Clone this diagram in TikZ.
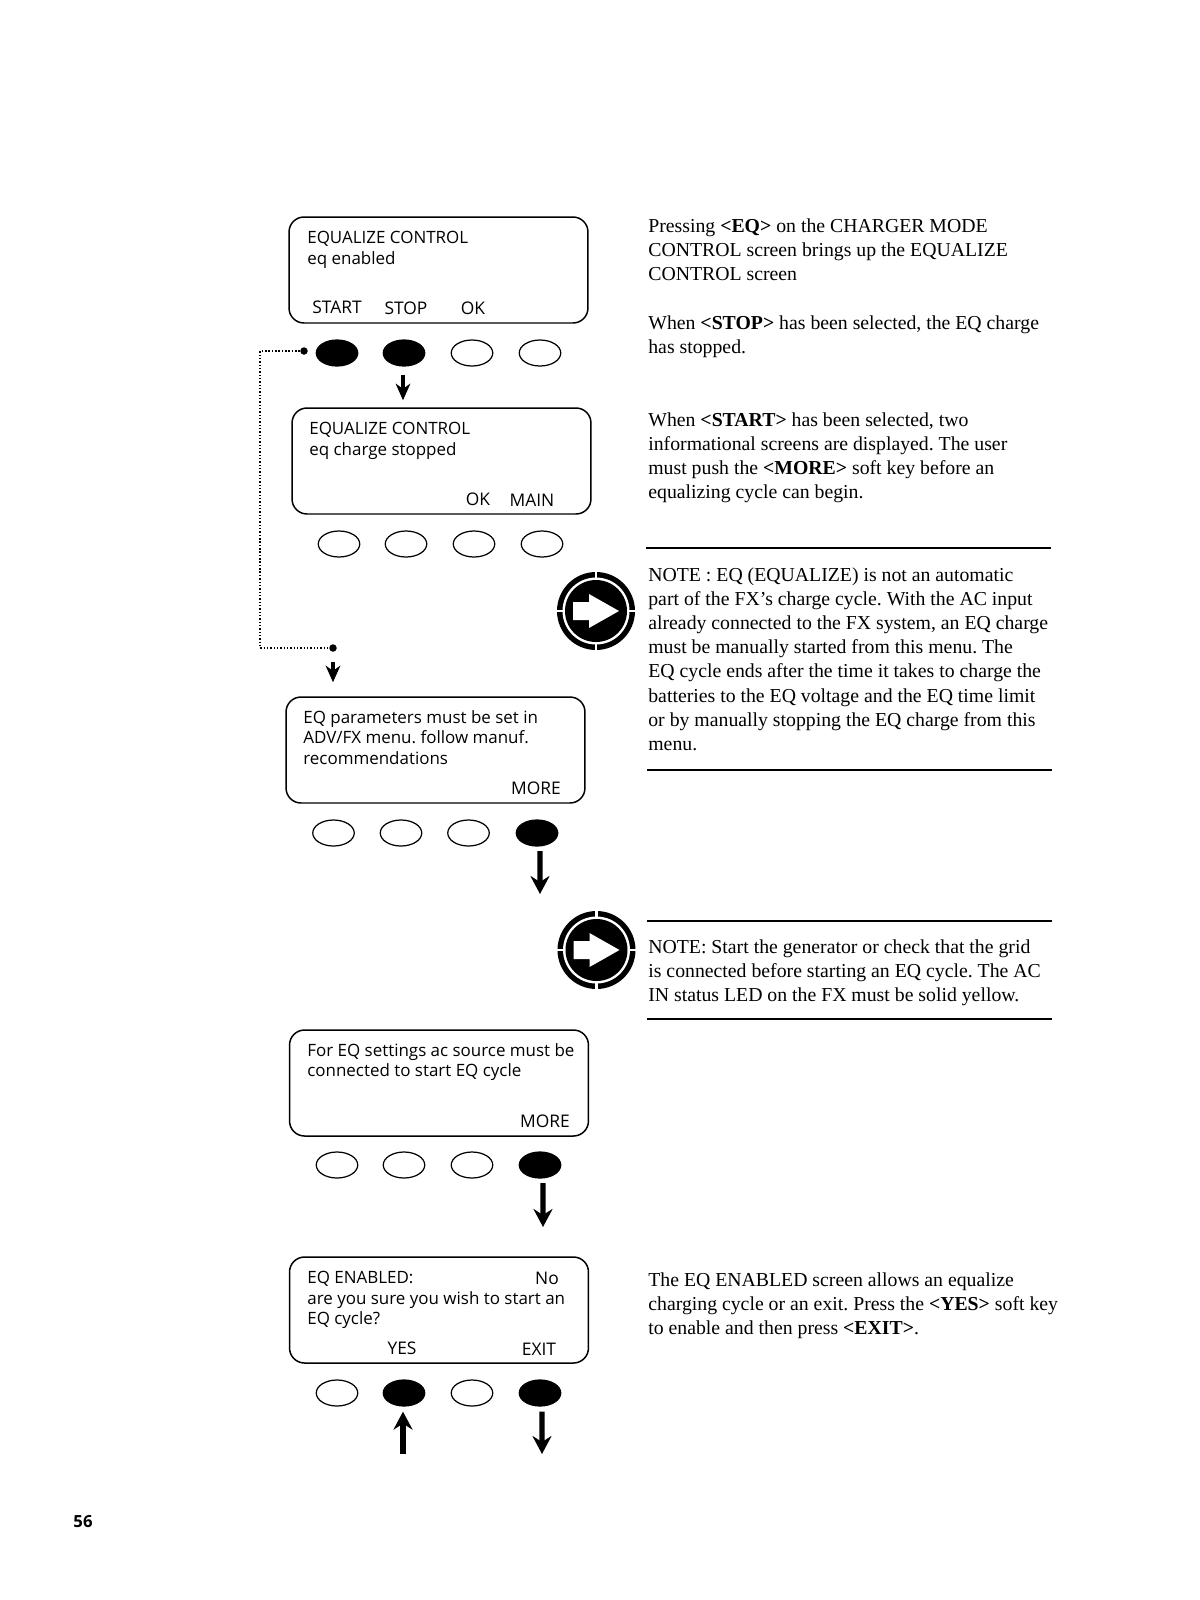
\documentclass[tikz,border=0pt]{standalone}
\usepackage{fontspec}
\setmainfont{Liberation Serif}
\newfontfamily\lcdfont{Open Sans}
\usetikzlibrary{arrows.meta,shapes.geometric}
\frenchspacing
\tikzset{
  screen/.style={draw, rounded corners=0.3cm, line width=0.85pt, minimum width=5.98cm, minimum height=2.12cm, inner sep=0pt},
  softkey/.style={draw, ellipse, line width=0.7pt, minimum width=0.83cm, minimum height=0.52cm, inner sep=0pt},
  softkeyon/.style={softkey, fill=black},
  lcd/.style={font=\lcdfont\fontsize{9.65}{11.7}\selectfont, align=left, anchor=north west, inner sep=0pt},
  lab/.style={font=\lcdfont\fontsize{9.9}{11.6}\selectfont, inner sep=0pt},
  body/.style={font=\fontsize{11.25}{13.78}\selectfont, align=left, anchor=north west, inner sep=0pt},
  rulebar/.style={line width=0.9pt},
  arr/.style={-{Stealth[length=0.36cm, width=0.38cm, inset=0.12cm]}, line width=3pt},
  smallarr/.style={-{Stealth[length=0.33cm, width=0.29cm, inset=0.1cm]}, line width=2.2pt},
  jump/.style={dash pattern=on 0.8pt off 1.1pt, line width=0.8pt},
  dot/.style={circle, fill=black, inner sep=0pt, minimum size=0.15cm},
  goicon/.pic={
    \fill[black] (0,0) circle (39);
    \fill[white] (0,0) circle (33.5);
    \fill[black] (0,0) circle (31);
    \draw[white, line width=1.6pt] (-40,0) -- (-32,0) (32,0) -- (40,0) (0,-40) -- (0,-32) (0,32) -- (0,40);
    \fill[white] (-23,-9) -- (-7,-9) -- (-7,-17) -- (23,0) -- (-7,17) -- (-7,9) -- (-23,9) -- cycle;
  },
}
\begin{document}
\begin{tikzpicture}[x=0.02cm, y=-0.02cm]
  \useasboundingbox (0,0) rectangle (1200,1600);

  % screens
  \node[screen] (scrA) at (438.5,270) {};
  \node[screen] (scrB) at (441.5,461) {};
  \node[screen] (scrC) at (435.5,750) {};
  \node[screen] (scrD) at (439,1083) {};
  \node[screen] (scrE) at (439,1310) {};

  \node[lcd] (lcdA) at (307,231) {EQUALIZE CONTROL\\eq enabled};
  \node[lab] (labA1) at (337,307) {START}; \node[lab] (labA2) at (406,308) {STOP}; \node[lab] (labA3) at (473,308) {OK};
  \node[lcd] (lcdB) at (309,422) {EQUALIZE CONTROL\\eq charge stopped};
  \node[lab] (labB3) at (478,499) {OK}; \node[lab] (labB4) at (532,500) {MAIN};
  \node[lcd] (lcdC) at (303,710) {EQ parameters must be set in\\ADV/FX menu. follow manuf.\\recommendations};
  \node[lab] (labC4) at (536,788) {MORE};
  \node[lcd] (lcdD) at (307,1043) {For EQ settings ac source must be\\connected to start EQ cycle};
  \node[lab] (labD4) at (545,1121) {MORE};
  \node[lcd] (lcdE) at (307,1271) {EQ ENABLED:\\are you sure you wish to start an\\EQ cycle?};
  \node[lab] (labE1) at (547,1278) {No};
  \node[lab] (labE2) at (402,1348) {YES}; \node[lab] (labE4) at (539,1349) {EXIT};

  % soft keys
  \node[softkeyon] (keyA1) at (337,353) {}; \node[softkeyon] (keyA2) at (404,353) {}; \node[softkey] (keyA3) at (472,353) {}; \node[softkey] (keyA4) at (540,353) {};
  \node[softkey] (keyB1) at (339,544) {}; \node[softkey] (keyB2) at (406,544) {}; \node[softkey] (keyB3) at (474,544) {}; \node[softkey] (keyB4) at (542,544) {};
  \node[softkey] (keyC1) at (333.5,833) {}; \node[softkey] (keyC2) at (401,833) {}; \node[softkey] (keyC3) at (468.5,833) {}; \node[softkeyon] (keyC4) at (537,833) {};
  \node[softkey] (keyD1) at (337,1165) {}; \node[softkey] (keyD2) at (404,1165) {}; \node[softkey] (keyD3) at (472,1165) {}; \node[softkeyon] (keyD4) at (540,1165) {};
  \node[softkey] (keyE1) at (337,1393) {}; \node[softkeyon] (keyE2) at (404,1393) {}; \node[softkey] (keyE3) at (472,1393) {}; \node[softkeyon] (keyE4) at (540,1393) {};

  % connectors
  \node[dot] (dotA) at (304,351) {}; \node[dot] (dotB) at (333,648) {};
  \coordinate (cornerA) at (260,351); \coordinate (cornerB) at (260,648);
  \draw[jump] (dotA) -- (cornerA) -- (cornerB) -- (dotB);
  \draw[smallarr] ([xshift=-0.02cm, yshift=-0.17cm]keyA2.south) -- ([xshift=-0.02cm, yshift=0.14cm]scrB.north -| keyA2);
  \draw[smallarr] ([yshift=-0.2cm]dotB.south) -- ([yshift=0.28cm]scrC.north -| dotB);
  \coordinate (tipC) at (540,894); \coordinate (tipD) at (543,1227); \coordinate (tipE) at (542,1454); \coordinate (tailE) at (403,1454);
  \draw[arr] ([xshift=0.06cm, yshift=-0.09cm]keyC4.south) -- (tipC);
  \draw[arr] ([xshift=0.06cm, yshift=-0.09cm]keyD4.south) -- (tipD);
  \draw[arr] ([xshift=0.04cm, yshift=-0.1cm]keyE4.south) -- (tipE);
  \draw[arr] (tailE) -- ([xshift=-0.02cm, yshift=-0.1cm]keyE2.south);

  % icons
  \pic (iconA) at (596,611) {goicon};
  \pic (iconB) at (596.5,950) {goicon};

  % right column
  \node[body] (txtA) at (648,218) {Pressing \textbf{<EQ>} on the CHARGER MODE\\CONTROL screen brings up the EQUALIZE\\CONTROL screen};
  \node[body] (txtB) at (648,315) {When \textbf{<STOP>} has been selected, the EQ charge\\has stopped.};
  \node[body] (txtC) at (648,412) {When \textbf{<START>} has been selected, two\\informational screens are displayed. The user\\must push the \textbf{<MORE>} soft key before an\\equalizing cycle can begin.};
  \node[body] (txtD) at (648,567) {NOTE : EQ (EQUALIZE) is not an automatic\\part of the FX’s charge cycle. With the AC input\\already connected to the FX system, an EQ charge\\must be manually started from this menu. The\\EQ cycle ends after the time it takes to charge the\\batteries to the EQ voltage and the EQ time limit\\or by manually stopping the EQ charge from this\\menu.};
  \node[body] (txtE) at (648,939) {NOTE: Start the generator or check that the grid\\is connected before starting an EQ cycle. The AC\\IN status LED on the FX must be solid yellow.};
  \node[body] (txtF) at (648,1272) {The EQ ENABLED screen allows an equalize\\charging cycle or an exit. Press the \textbf{<YES>} soft key\\to enable and then press \textbf{<EXIT>}.};

  \coordinate (ruleAl) at (646,548); \coordinate (ruleAr) at (1051,548);
  \coordinate (ruleBl) at (647,770); \coordinate (ruleBr) at (1052,770);
  \coordinate (ruleCl) at (647,921); \coordinate (ruleCr) at (1052,921);
  \coordinate (ruleDl) at (647,1019); \coordinate (ruleDr) at (1052,1019);
  \draw[rulebar] (ruleAl) -- (ruleAr); \draw[rulebar] (ruleBl) -- (ruleBr);
  \draw[rulebar] (ruleCl) -- (ruleCr); \draw[rulebar] (ruleDl) -- (ruleDr);

  \node[font=\lcdfont\bfseries\fontsize{9.5}{11}\selectfont, inner sep=0pt] (pagenum) at (83,1522) {56};
\end{tikzpicture}
\end{document}
